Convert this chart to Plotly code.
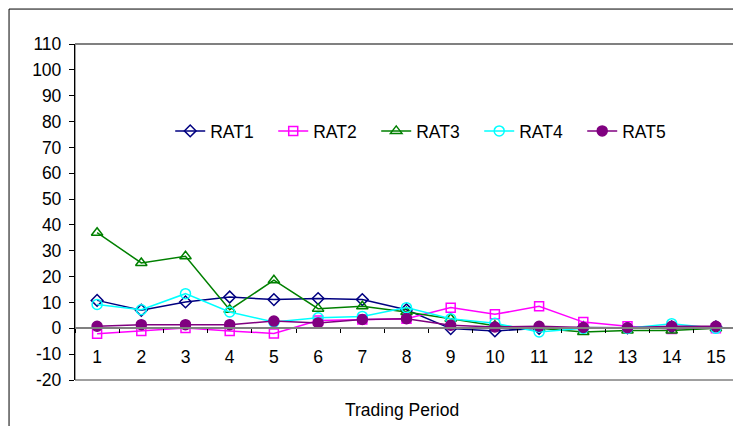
import plotly.graph_objects as go

periods = list(range(1, 16))
rat1 = [10.8, 7.0, 10.2, 12.1, 11.1, 11.5, 11.1, 7.2, -0.1, -1.0, 0.0, 0.3, 0.2, 0.5, 0.5]
rat2 = [-2.1, -1.0, 0.1, -1.0, -2.0, 3.0, 3.4, 3.7, 8.0, 5.4, 8.5, 2.4, 0.8, -0.3, 0.0]
rat3 = [37.0, 25.3, 27.9, 7.2, 18.6, 7.6, 8.5, 6.3, 3.7, 1.0, 0.0, -1.4, -0.8, -0.8, 0.0]
rat4 = [9.2, 7.2, 13.4, 6.3, 2.4, 4.1, 4.6, 8.0, 3.7, 2.0, -1.4, 0.0, 0.0, 1.8, 0.0]
rat5 = [0.8, 1.4, 1.4, 1.4, 2.8, 2.1, 3.4, 3.7, 1.2, 0.5, 0.8, 0.3, 0.2, 0.8, 0.8]
names = ["RAT1", "RAT2", "RAT3", "RAT4", "RAT5"]
colors = ["#000080", "#FF00FF", "#008000", "#00FFFF", "#800080"]
symbols = ["diamond-open", "square-open", "triangle-up-open", "circle-open", "circle"]
sizes = [9, 9, 10, 10, 10]
series = [rat1, rat2, rat3, rat4, rat5]
yticks = list(range(-20, 111, 10))
yticklabels = [str(v) for v in yticks]

fig = go.Figure()
for name, vals, c, s, sz in zip(names, series, colors, symbols, sizes):
    fig.add_trace(go.Scatter(
        x=periods, y=vals, name=name, mode="lines+markers",
        line=dict(color=c, width=1.5),
        marker=dict(symbol=s, size=sz, color=c, line=dict(color=c, width=1.5)),
    ))

FONT = "Liberation Sans, Arial, sans-serif"
FS = 17.5
fig.update_layout(
    width=733, height=418,
    margin=dict(l=67, r=3, t=36, b=46),
    paper_bgcolor="white", plot_bgcolor="white",
    font=dict(family=FONT, size=FS, color="black"),
    showlegend=True,
    legend=dict(orientation="h", x=0.532, xanchor="center", y=0.741, yanchor="middle",
                entrywidth=58, entrywidthmode="pixels", bgcolor="rgba(0,0,0,0)",
                font=dict(size=FS)),
    xaxis=dict(range=[0.5, 15.5], tickvals=periods, ticktext=[str(p) for p in periods],
               ticks="", showgrid=False, zeroline=False,
               showline=True, linecolor="#808080", linewidth=2,
               anchor="free", position=20/130, ticklabelstandoff=13,
               minor=dict(tickvals=[p + 0.5 for p in range(0, 16)], ticks="outside",
                          ticklen=4, tickcolor="black", tickwidth=1, showgrid=False)),
    yaxis=dict(range=[-20, 110], tickvals=yticks, ticktext=yticklabels, ticks="outside",
               ticklen=5, tickcolor="black", showgrid=False, zeroline=False,
               showline=True, linecolor="black", linewidth=1.3, ticklabelstandoff=4),
)

# plot area border and top line
fig.add_shape(type="rect", xref="paper", yref="paper", x0=0, x1=1, y0=0, y1=1,
              line=dict(color="#404040", width=1), layer="below")
fig.add_shape(type="line", xref="paper", yref="paper", x0=0, x1=1, y0=1, y1=1,
              line=dict(color="#808080", width=2))
# outer chart frame
fig.add_shape(type="rect", xref="paper", yref="paper", x0=-0.0995, x1=1.1, y0=-0.3, y1=1.104,
              line=dict(color="black", width=1))

fig.add_annotation(text="Trading Period", xref="paper", yref="paper", x=0.493, y=-0.089,
                   showarrow=False, xanchor="center", yanchor="middle", font=dict(size=FS))

fig.write_html("out.html")
